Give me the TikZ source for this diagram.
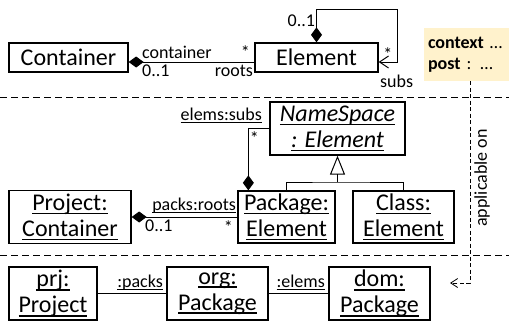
\documentclass[tikz,border=0pt]{standalone}
\usepackage{fontspec}
\setmainfont{Carlito}
\usepackage{tikz}
\usetikzlibrary{arrows.meta}
\definecolor{notefill}{HTML}{FFF2CC}
\newsavebox{\objbox}
\newcommand{\obj}[1]{\sbox{\objbox}{#1}\rlap{\rule[-0.16em]{\wd\objbox}{0.07em}}\usebox{\objbox}}

\begin{document}
\begin{tikzpicture}[x=1pt, y=-1pt,
  box/.style={draw, line width=1.3pt, inner sep=0pt, align=center,
    font=\fontsize{24}{26}\selectfont},
  lbl/.style={inner sep=1pt, font=\fontsize{18}{20}\selectfont},
  link/.style={line width=1pt},
  comp/.style={link, {Diamond[length=15pt,width=11pt]}-},
  sep/.style={line width=0.9pt, dash pattern=on 7pt off 4pt}]
\useasboundingbox (0,0) rectangle (509,322);
% metamodel
\node[box, minimum width=119pt, minimum height=29pt] (Container) at (68.5,57.5) {Container};
\node[box, minimum width=123pt, minimum height=29pt] (Element) at (316.5,57.5) {Element};
\coordinate (loop) at (397,9);
\draw[comp] ([yshift=-4.5pt]Container.east) -- ([yshift=-4.5pt]Element.west)
  node[lbl, at start, anchor=south west, xshift=12pt, yshift=1.5pt] {container}
  node[lbl, at start, anchor=north west, xshift=12pt, yshift=-1.5pt] {0..1}
  node[lbl, at end, anchor=south east, xshift=-3pt, yshift=2pt] {*}
  node[lbl, at end, anchor=north east, yshift=-1.5pt] {roots};
\draw[link, {Diamond[length=15pt,width=11pt]}-{Straight Barb[length=9pt,width=12pt]}]
  (Element.north) |- (loop) node[lbl, pos=0.32, left] {0..1}
  |- ([yshift=-4.5pt]Element.east) node[lbl, pos=0.75, above] {*}
  node[lbl, at end, anchor=north west, yshift=-11pt] {subs};
\draw[sep] (0,97) -- (509,97);
% model
\node[box, minimum width=135pt, minimum height=53pt] (NameSpace) at (337.5,128.5)
  {\obj{\itshape NameSpace}\\\obj{\itshape : Element}};
\node[box, minimum width=122pt, minimum height=53pt] (Project) at (70,217)
  {\obj{Project:}\\\obj{Container}};
\node[box, minimum width=97pt, minimum height=52pt] (Package) at (286.5,217)
  {\obj{Package:}\\\obj{Element}};
\node[box, minimum width=101pt, minimum height=52pt] (Class) at (403.5,217)
  {\obj{Class:}\\\obj{Element}};
\coordinate (gen) at (NameSpace.south |- 0,182);
\draw[link, -{Triangle[open, length=19pt, width=15pt]}] (gen) -- (NameSpace.south);
\draw[link] (Package.north) |- (gen) -| (Class.north);
\draw[comp] ([xshift=11pt]Package.north west) |- (NameSpace.west)
  node[lbl, pos=0.42, right] {*}
  node[lbl, at end, anchor=south east, xshift=-6pt, yshift=4pt] {\obj{elems:subs}};
\draw[comp] (Project.east) -- (Package.west)
  node[lbl, at start, anchor=north west, xshift=12pt, yshift=-1.5pt] {0..1}
  node[lbl, at end, anchor=south east, yshift=2.5pt] {\obj{packs:roots}}
  node[lbl, at end, anchor=north east, xshift=-3pt, yshift=-2pt] {*};
\draw[sep] (0,255) -- (509,255);
% instance
\node[box, minimum width=88pt, minimum height=53pt] (prj) at (53,293.5)
  {\obj{prj:}\\\obj{Project}};
\node[box, minimum width=101pt, minimum height=53pt] (org) at (217.5,293.5)
  {\obj{org:}\\\obj{Package}};
\node[box, minimum width=101pt, minimum height=53pt] (dom) at (379.5,293.5)
  {\obj{dom:}\\\obj{Package}};
\draw[link] (prj) -- (org) node[lbl, at end, anchor=south east, xshift=-2pt, yshift=2pt] {\obj{:packs}};
\draw[link] (org) -- (dom) node[lbl, at end, anchor=south east, xshift=-2pt, yshift=2pt] {\obj{:elems}};
% constraint
\node[lbl, fill=notefill, minimum width=85pt, minimum height=53pt, text width=77pt,
  align=left, inner sep=4pt, font=\fontsize{18}{21}\selectfont] (note) at (466.5,54.5)
  {\textbf{context} …\\\textbf{post} : …};
\coordinate (bend) at (470,283);
\coordinate (appl) at (450,283);
\draw[line width=0.8pt, dash pattern=on 4pt off 2.5pt, -{Straight Barb[length=7pt,width=9pt]}]
  (note.south -| bend) -- (bend) -- (appl);
\node[lbl, rotate=90] (applon) at (482,178) {applicable on};
\end{tikzpicture}
\end{document}
